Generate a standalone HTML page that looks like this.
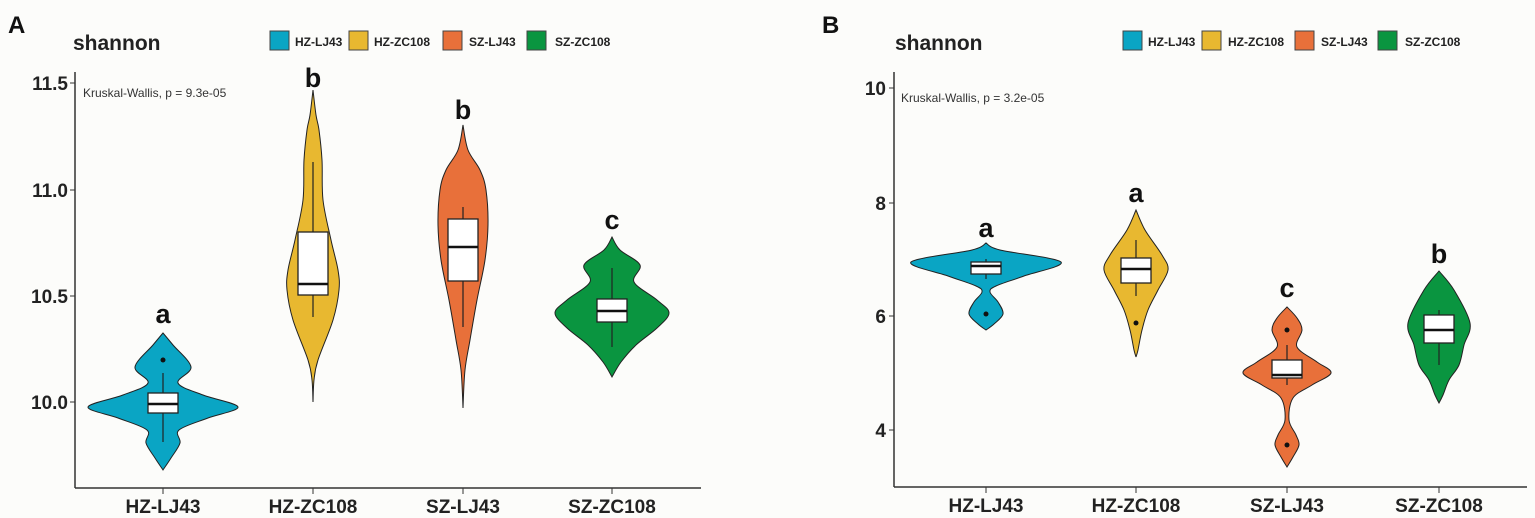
<!DOCTYPE html>
<html><head><meta charset="utf-8"><style>
html,body{margin:0;padding:0;background:#fcfcfa;}
svg{display:block;font-family:"Liberation Sans",Arial,sans-serif;}
.t{font-weight:bold;font-size:19px;fill:#222}
.lg{font-weight:bold;font-size:12px;fill:#222}
.let{font-weight:bold;font-size:27px;fill:#111}
</style></head><body>
<svg id="s" width="1535" height="518" viewBox="0 0 1535 518">
<rect width="1535" height="518" fill="#fcfcfa"/>
<!-- Panel A -->
<text x="8" y="33" font-size="24" font-weight="bold" fill="#111">A</text>
<text x="73" y="50" font-size="21" font-weight="bold" fill="#222">shannon</text>
<rect x="270" y="31" width="19" height="19" fill="#0aa5c4" stroke="#444"/><text class="lg" x="295" y="46">HZ-LJ43</text>
<rect x="349" y="31" width="19" height="19" fill="#e8b830" stroke="#444"/><text class="lg" x="374" y="46">HZ-ZC108</text>
<rect x="443" y="31" width="19" height="19" fill="#e8703a" stroke="#444"/><text class="lg" x="469" y="46">SZ-LJ43</text>
<rect x="527" y="31" width="19" height="19" fill="#0a9540" stroke="#444"/><text class="lg" x="555" y="46">SZ-ZC108</text>
<line x1="75" y1="72" x2="75" y2="488" stroke="#333" stroke-width="1.5"/>
<line x1="75" y1="488" x2="701" y2="488" stroke="#333" stroke-width="1.5"/>
<g stroke="#333"><line x1="70" y1="83" x2="75" y2="83"/><line x1="70" y1="190" x2="75" y2="190"/><line x1="70" y1="296" x2="75" y2="296"/><line x1="70" y1="402" x2="75" y2="402"/>
<line x1="163" y1="488" x2="163" y2="494"/><line x1="313" y1="488" x2="313" y2="494"/><line x1="463" y1="488" x2="463" y2="494"/><line x1="612" y1="488" x2="612" y2="494"/></g>
<g class="t" text-anchor="end"><text x="68" y="90">11.5</text><text x="68" y="197">11.0</text><text x="68" y="303">10.5</text><text x="68" y="409">10.0</text></g>
<g class="t" text-anchor="middle"><text x="163" y="513">HZ-LJ43</text><text x="313" y="513">HZ-ZC108</text><text x="463" y="513">SZ-LJ43</text><text x="612" y="513">SZ-ZC108</text></g>
<text x="83" y="97" font-size="12" fill="#333">Kruskal-Wallis, p = 9.3e-05</text>
<g class="let" text-anchor="middle"><text x="163" y="323">a</text><text x="313" y="87">b</text><text x="463" y="119">b</text><text x="612" y="229">c</text></g>
<!-- Panel B -->
<text x="822" y="33" font-size="24" font-weight="bold" fill="#111">B</text>
<text x="895" y="50" font-size="21" font-weight="bold" fill="#222">shannon</text>
<rect x="1123" y="31" width="19" height="19" fill="#0aa5c4" stroke="#444"/><text class="lg" x="1148" y="46">HZ-LJ43</text>
<rect x="1202" y="31" width="19" height="19" fill="#e8b830" stroke="#444"/><text class="lg" x="1228" y="46">HZ-ZC108</text>
<rect x="1295" y="31" width="19" height="19" fill="#e8703a" stroke="#444"/><text class="lg" x="1321" y="46">SZ-LJ43</text>
<rect x="1378" y="31" width="19" height="19" fill="#0a9540" stroke="#444"/><text class="lg" x="1405" y="46">SZ-ZC108</text>
<line x1="894" y1="72" x2="894" y2="487" stroke="#333" stroke-width="1.5"/>
<line x1="894" y1="487" x2="1527" y2="487" stroke="#333" stroke-width="1.5"/>
<g stroke="#333"><line x1="889" y1="88" x2="894" y2="88"/><line x1="889" y1="203" x2="894" y2="203"/><line x1="889" y1="316" x2="894" y2="316"/><line x1="889" y1="430" x2="894" y2="430"/>
<line x1="986" y1="487" x2="986" y2="493"/><line x1="1136" y1="487" x2="1136" y2="493"/><line x1="1287" y1="487" x2="1287" y2="493"/><line x1="1439" y1="487" x2="1439" y2="493"/></g>
<g class="t" text-anchor="end"><text x="886" y="95">10</text><text x="886" y="210">8</text><text x="886" y="323">6</text><text x="886" y="437">4</text></g>
<g class="t" text-anchor="middle"><text x="986" y="512">HZ-LJ43</text><text x="1136" y="512">HZ-ZC108</text><text x="1287" y="512">SZ-LJ43</text><text x="1439" y="512">SZ-ZC108</text></g>
<text x="901" y="102" font-size="12" fill="#333">Kruskal-Wallis, p = 3.2e-05</text>
<g class="let" text-anchor="middle"><text x="986" y="237">a</text><text x="1136" y="202">a</text><text x="1287" y="297">c</text><text x="1439" y="263">b</text></g>
<g id="v"></g>
</svg>
<script>
var V=[
 {c:163,col:"#0aa5c4",p:[[333,0],[345,10],[367,28],[383,15],[395,40],[407,75],[418,45],[430,16],[443,17],[458,8],[470,0]],b:[393,413,404,373,442],d:[360]},
 {c:313,col:"#e8b830",p:[[90,0],[115,3],[130,6],[160,9],[200,10],[240,18],[270,25],[290,26],[320,20],[360,5],[380,1],[402,0]],b:[232,295,284,162,317],d:[]},
 {c:463,col:"#e8703a",p:[[125,0],[150,5],[170,17],[190,23],[225,25],[260,22],[300,14],[340,7],[370,2],[408,0]],b:[219,281,247,207,327],d:[]},
 {c:612,col:"#0a9540",p:[[237,0],[250,8],[265,28],[282,22],[300,45],[313,57],[328,45],[345,24],[362,9],[377,0]],b:[299,322,311,268,347],d:[]},
 {c:986,col:"#0aa5c4",p:[[243,0],[250,14],[262,75],[276,38],[286,10],[292,4],[302,12],[314,17],[324,8],[330,0]],b:[262,274,266,259,279],d:[314]},
 {c:1136,col:"#e8b830",p:[[210,0],[230,9],[255,26],[270,32],[290,22],[310,12],[330,6],[350,2],[357,0]],b:[258,283,269,240,296],d:[323]},
 {c:1287,col:"#e8703a",p:[[307,0],[318,10],[330,15],[347,10],[362,30],[373,44],[385,25],[398,6],[420,2],[435,9],[445,12],[457,6],[467,0]],b:[360,378,375,345,385],d:[330,445]},
 {c:1439,col:"#0a9540",p:[[271,0],[290,15],[323,31],[345,25],[365,20],[380,10],[395,4],[403,0]],b:[315,343,330,310,365],d:[]}
];
function cr(pts){var s="";for(var i=0;i<pts.length-1;i++){var p0=pts[Math.max(i-1,0)],p1=pts[i],p2=pts[i+1],p3=pts[Math.min(i+2,pts.length-1)];
var c1=[p1[0]+(p2[0]-p0[0])/6,p1[1]+(p2[1]-p0[1])/6],c2=[p2[0]-(p3[0]-p1[0])/6,p2[1]-(p3[1]-p1[1])/6];
s+=" C"+c1[0].toFixed(1)+","+c1[1].toFixed(1)+" "+c2[0].toFixed(1)+","+c2[1].toFixed(1)+" "+p2[0].toFixed(1)+","+p2[1].toFixed(1);}return s;}
var g=document.getElementById("v"),h="";
V.forEach(function(v){
 var r=v.p.map(function(q){return [v.c+q[1],q[0]];});
 var l=v.p.slice().reverse().map(function(q){return [v.c-q[1],q[0]];});
 var d="M"+r[0][0]+","+r[0][1]+cr(r)+cr(l)+"Z";
 h+='<path d="'+d+'" fill="'+v.col+'" stroke="#222" stroke-width="1"/>';
 var b=v.b;
 h+='<line x1="'+v.c+'" y1="'+b[3]+'" x2="'+v.c+'" y2="'+b[4]+'" stroke="#222" stroke-width="1.2"/>';
 h+='<rect x="'+(v.c-15)+'" y="'+b[0]+'" width="30" height="'+(b[1]-b[0])+'" fill="#fff" stroke="#222" stroke-width="1.3"/>';
 h+='<line x1="'+(v.c-15)+'" y1="'+b[2]+'" x2="'+(v.c+15)+'" y2="'+b[2]+'" stroke="#111" stroke-width="2.5"/>';
 v.d.forEach(function(y){h+='<circle cx="'+v.c+'" cy="'+y+'" r="2.5" fill="#111"/>';});
});
g.innerHTML=h;
</script>
</body></html>
